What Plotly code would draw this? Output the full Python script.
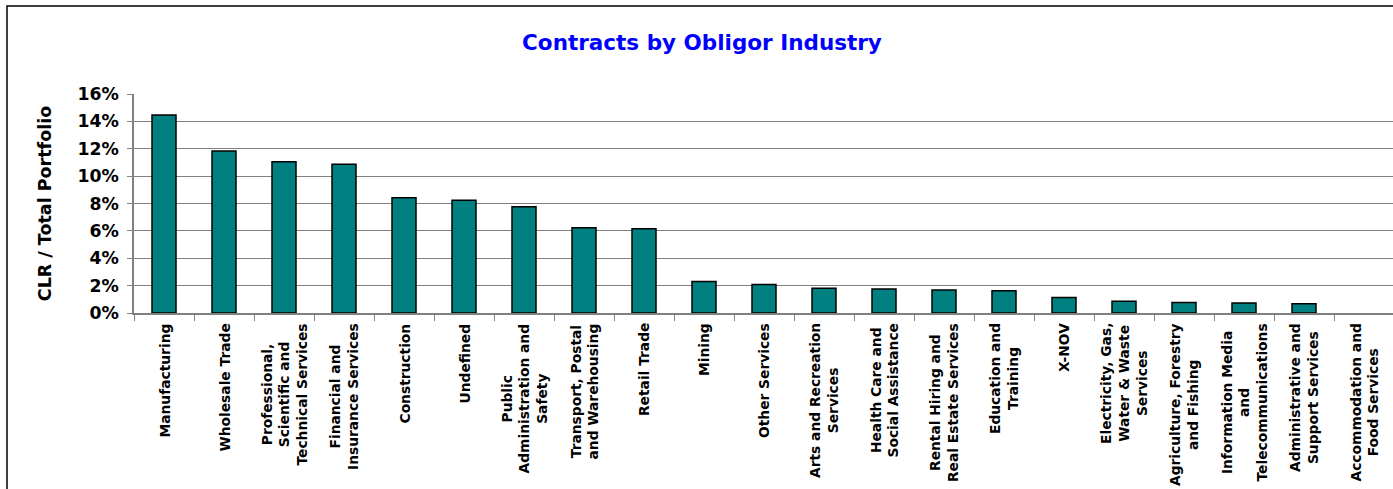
import plotly.graph_objects as go

categories = [
    "Manufacturing", "Wholesale Trade", "Professional, Scientific and Technical Services",
    "Financial and Insurance Services", "Construction", "Undefined",
    "Public Administration and Safety", "Transport, Postal and Warehousing", "Retail Trade",
    "Mining", "Other Services", "Arts and Recreation Services",
    "Health Care and Social Assistance", "Rental Hiring and Real Estate Services",
    "Education and Training", "X-NOV", "Electricity, Gas, Water & Waste Services",
    "Agriculture, Forestry and Fishing", "Information Media and Telecommunications",
    "Administrative and Support Services", "Accommodation and Food Services",
]

tick_labels = [
    "Manufacturing", "Wholesale Trade", "Professional,<br>Scientific and<br>Technical Services",
    "Financial and<br>Insurance Services", "Construction", "Undefined",
    "Public<br>Administration and<br>Safety", "Transport, Postal<br>and Warehousing", "Retail Trade",
    "Mining", "Other Services", "Arts and Recreation<br>Services",
    "Health Care and<br>Social Assistance", "Rental Hiring and<br>Real Estate Services",
    "Education and<br>Training", "X-NOV", "Electricity, Gas,<br>Water & Waste<br>Services",
    "Agriculture, Forestry<br>and Fishing", "Information Media<br>and<br>Telecommunications",
    "Administrative and<br>Support Services", "Accommodation and<br>Food Services",
]

clr_share = [
    0.1446, 0.1183, 0.1105, 0.1086, 0.0842, 0.0823, 0.0777, 0.0623, 0.0616,
    0.0231, 0.0209, 0.0180, 0.0175, 0.0168, 0.0163, 0.0114, 0.0085, 0.0077,
    0.0073, 0.0068, 0.0,
]

y_ticks = [0, 0.02, 0.04, 0.06, 0.08, 0.10, 0.12, 0.14, 0.16]
y_tick_text = ["0%", "2%", "4%", "6%", "8%", "10%", "12%", "14%", "16%"]

FONT = "DejaVu Sans"
W, H = 1393, 489
ML, MR, MT, MB = 134, 0, 94, 176
PW, PH = W - ML - MR, H - MT - MB
CAT_PX = 60.0  # pixel width of one category slot

fig = go.Figure()
fig.add_trace(go.Bar(
    x=categories, y=clr_share,
    marker=dict(color="#008080",
                line=dict(color="#000000", width=[1.5 if v > 0 else 0 for v in clr_share])),
    hoverinfo="x+y",
))

annotations = []
for cat, lab in zip(categories, tick_labels):
    bold = "<b>" + lab.replace("<br>", "</b><br><b>") + "</b>"
    annotations.append(dict(
        x=cat, xref="x", y=-9.5 / PH, yref="paper",
        text=bold, showarrow=False, textangle=-90,
        xanchor="center", yanchor="top", align="center",
        font=dict(family=FONT, size=13.8, color="#000000"),
        borderpad=0,
    ))

fig.update_layout(
    width=W, height=H,
    margin=dict(l=ML, r=MR, t=MT, b=MB, autoexpand=False),
    paper_bgcolor="#ffffff", plot_bgcolor="#ffffff",
    bargap=0.6, showlegend=False,
    title=dict(
        text="<b>Contracts by Obligor Industry</b>",
        x=(702 - ML) / PW, xref="paper", xanchor="center",
        y=1 - 42 / H, yref="container", yanchor="middle",
        font=dict(family=FONT, size=21.5, color="#0000FF"),
    ),
    font=dict(family=FONT, color="#000000"),
    annotations=annotations,
    shapes=[dict(
        type="rect", xref="paper", yref="paper",
        x0=(7 - ML) / PW, x1=1.05, y0=-(H + 20 - MT - PH) / PH, y1=(MT + PH - 6) / PH,
        line=dict(color="#000000", width=1.5), fillcolor="rgba(0,0,0,0)", layer="below",
    )],
)

fig.update_xaxes(
    type="category", range=[-0.5, -0.5 + PW / CAT_PX],
    showticklabels=False, showgrid=False,
    showline=True, linecolor="#808080", linewidth=1.5,
    ticks="outside", tickson="boundaries", ticklen=6, tickcolor="#808080", tickwidth=1,
)
fig.update_yaxes(
    range=[0, 0.16], tickvals=y_ticks,
    ticktext=[f"<b>{t}</b>" for t in y_tick_text],
    showgrid=True, gridcolor="#808080", gridwidth=1,
    showline=True, linecolor="#808080", linewidth=1.5,
    ticks="outside", ticklen=5, tickcolor="#808080",
    ticklabelstandoff=5,
    tickfont=dict(family=FONT, size=17.3, color="#000000"),
    title=dict(text="<b>CLR / Total Portfolio</b>", standoff=21,
               font=dict(family=FONT, size=17.5, color="#000000")),
    zeroline=False,
)

fig.write_html(
    "out.html",
    config={"displayModeBar": False},
    post_script="document.body.style.margin='0';document.body.style.overflow='hidden';",
)
